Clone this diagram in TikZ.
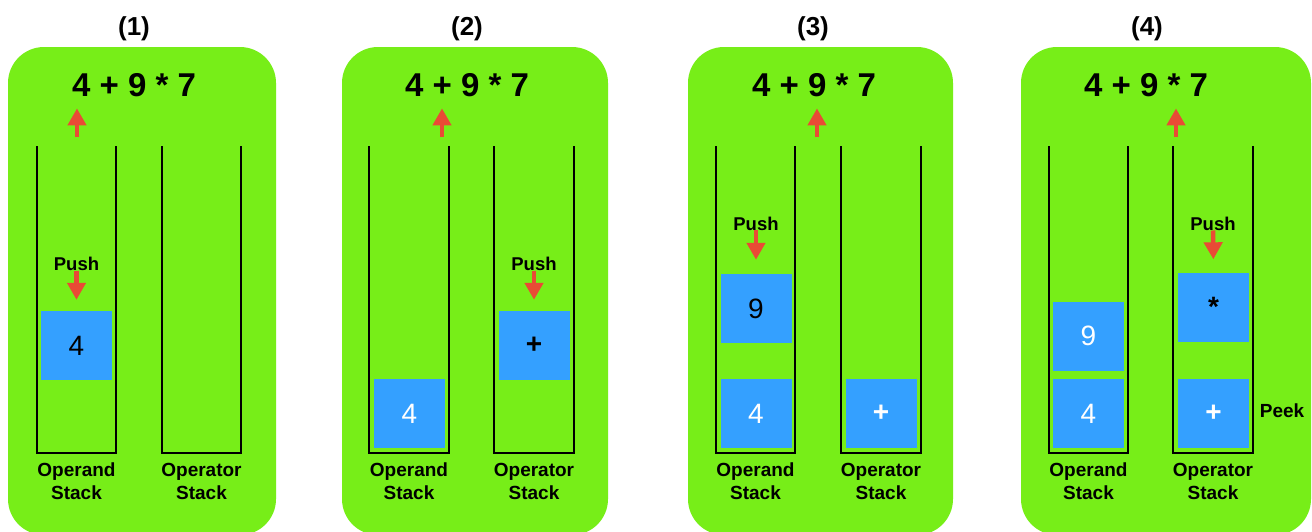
\documentclass[tikz,border=0pt]{standalone}
\usepackage{fontspec}
\setmainfont{Liberation Sans}
\usepackage{tikz}
\usetikzlibrary{arrows.meta}

\definecolor{panelgreen}{HTML}{77EE18}
\definecolor{itemblue}{HTML}{34A0FF}
\definecolor{pushred}{HTML}{E94B35}

\tikzset{
  panel/.style={fill=panelgreen, rounded corners=36pt},
  wall/.style={line width=2.4pt, line join=miter},
  title/.style={inner sep=0pt, font=\bfseries\fontsize{26}{30}\selectfont},
  expr/.style={inner sep=0pt, font=\bfseries\fontsize{33}{36}\selectfont},
  stacklbl/.style={inner sep=0pt, align=center, font=\bfseries\fontsize{19}{23}\selectfont},
  pushlbl/.style={inner sep=0pt, font=\bfseries\fontsize{18.5}{22}\selectfont},
  item/.style={fill=itemblue, minimum width=71pt, minimum height=69pt, inner sep=0pt, font=\fontsize{28}{30}\selectfont},
  olditem/.style={item, text=white},
  redarrow/.style={->, color=pushred, line width=4.5pt}
}

\begin{document}
\begin{tikzpicture}[line cap=butt,>={Triangle[width=18pt,length=17pt]},x=1pt,y=-1pt]
\clip (0.,0.) rectangle (1312.,531.);
\fill [white] (0.,0.) rectangle (1312.,531.);

% panels
\fill [panel] (8.,47.) rectangle (276.,535.);
\fill [panel] (342.,47.) rectangle (608.,535.);
\fill [panel] (688.,47.) rectangle (953.,535.);
\fill [panel] (1021.,47.) rectangle (1311.,535.);

\node [title] (t1) at (134.,28.5) {(1)};
\node [title] (t2) at (467.,28.5) {(2)};
\node [title] (t3) at (813.,28.5) {(3)};
\node [title] (t4) at (1147.,28.5) {(4)};

\node [expr] (e1) at (134.,85.5) {4 + 9 * 7};
\node [expr] (e2) at (467.,85.5) {4 + 9 * 7};
\node [expr] (e3) at (814.,85.5) {4 + 9 * 7};
\node [expr] (e4) at (1146.,85.5) {4 + 9 * 7};

% stacks
\draw [wall] (37.,146.)-- (37.,453.)-- (116.,453.)-- (116.,146.);
\draw [wall] (162.,146.)-- (162.,453.)-- (241.,453.)-- (241.,146.);
\draw [wall] (369.,146.)-- (369.,453.)-- (449.,453.)-- (449.,146.);
\draw [wall] (494.,146.)-- (494.,453.)-- (574.,453.)-- (574.,146.);
\draw [wall] (716.,146.)-- (716.,453.)-- (795.,453.)-- (795.,146.);
\draw [wall] (841.,146.)-- (841.,453.)-- (921.,453.)-- (921.,146.);
\draw [wall] (1049.,146.)-- (1049.,453.)-- (1128.,453.)-- (1128.,146.);
\draw [wall] (1173.,146.)-- (1173.,453.)-- (1253.,453.)-- (1253.,146.);

\node [stacklbl] (l1a) at (76.5,481.) {Operand\\Stack};
\node [stacklbl] (l1b) at (201.5,481.) {Operator\\Stack};
\node [stacklbl] (l2a) at (409.,481.) {Operand\\Stack};
\node [stacklbl] (l2b) at (534.,481.) {Operator\\Stack};
\node [stacklbl] (l3a) at (755.5,481.) {Operand\\Stack};
\node [stacklbl] (l3b) at (881.,481.) {Operator\\Stack};
\node [stacklbl] (l4a) at (1088.5,481.) {Operand\\Stack};
\node [stacklbl] (l4b) at (1213.,481.) {Operator\\Stack};

% items
\node [item] (b1) at (76.5,345.5) {4};
\node [olditem] (b2a) at (409.5,413.5) {4};
\node [item] (b2b) at (534.,345.5) {\bfseries +};
\node [item] (b3a) at (756.,308.5) {9};
\node [olditem] (b3b) at (756.,413.5) {4};
\node [olditem] (b3c) at (881.,413.5) {\bfseries +};
\node [olditem] (b4a) at (1088.5,336.) {9};
\node [olditem] (b4b) at (1088.5,413.5) {4};
\node [item] (b4c) at (1213.5,307.) {\bfseries *};
\node [olditem] (b4d) at (1213.5,413.5) {\bfseries +};

\node [stacklbl] (peek) at (1282.,411.) {Peek};

% push arrows
\node [pushlbl] (p1) at (76.5,263.5) {Push};
\node [pushlbl] (p2) at (534.,263.5) {Push};
\node [pushlbl] (p3) at (756.,223.5) {Push};
\node [pushlbl] (p4) at (1213.,223.5) {Push};
\draw [redarrow, shorten >=11pt] (p1.south) -- (b1.north);
\draw [redarrow, shorten >=11pt] (p2.south) -- (b2b.north);
\draw [redarrow, shorten >=14pt] (p3.south) -- (b3a.north);
\draw [redarrow, shorten >=13pt] (p4.south) -- (b4c.north);

% read position
\coordinate (u1) at (77.,137.);
\coordinate (u2) at (442.,137.);
\coordinate (u3) at (817.,137.);
\coordinate (u4) at (1176.,137.);
\draw [redarrow, shorten >=11pt] (u1) -- (u1 |- e1.south);
\draw [redarrow, shorten >=11pt] (u2) -- (u2 |- e2.south);
\draw [redarrow, shorten >=11pt] (u3) -- (u3 |- e3.south);
\draw [redarrow, shorten >=11pt] (u4) -- (u4 |- e4.south);
\end{tikzpicture}
\end{document}
